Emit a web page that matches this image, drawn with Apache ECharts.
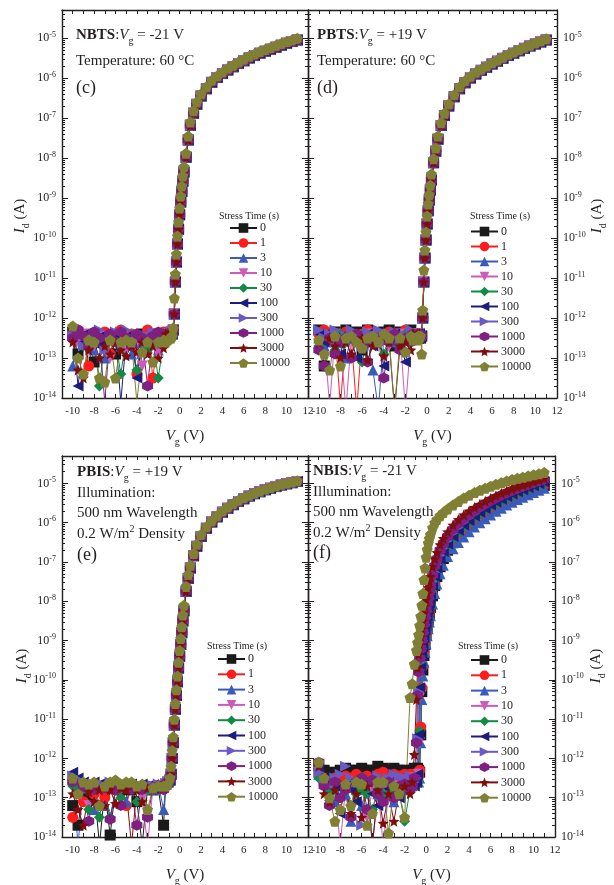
<!DOCTYPE html>
<html>
<head>
<meta charset="utf-8">
<script src="https://cdn.jsdelivr.net/npm/echarts@6/dist/echarts.min.js"></script>
<style>
html,body{margin:0;padding:0;background:#fff;}
#main{width:614px;height:885px;}
</style>
</head>
<body>
<div id="main"></div>
<script>
//stress times (legend)
var stressTimes = ['0', '1', '3', '10', '30', '100', '300', '1000', '3000', '10000'];
//gate voltage grids (V)
var vgOff = [-10, -9.5, -9, -8.5, -8, -7.5, -7, -6.5, -6, -5.5, -5, -4.5, -4, -3.5, -3, -2.5, -2, -1.5];
var vgOn = [-1.3, -1.1, -0.9, -0.8, -0.7, -0.6, -0.5, -0.4, -0.3, -0.2, -0.1, 0, 0.1, 0.2, 0.3, 0.4, 0.6, 0.8, 1.0, 1.3, 1.6,
	2, 2.5, 3, 3.5, 4, 4.5, 5, 5.5, 6, 6.5, 7, 7.5, 8, 8.5, 9, 9.5, 10, 10.5, 11];
//y ticks (A)
var decades = [1e-14, 1e-13, 1e-12, 1e-11, 1e-10, 1e-9, 1e-8, 1e-7, 1e-6, 1e-5];
//x tick labels (V)
var vgLabels = [-10, -8, -6, -4, -2, 0, 2, 4, 6, 8, 10, 12];

//---- log10(Id) readings ----
//(c) NBTS, off branch per stress time
var offC = [
	[-12.35, -12.9, -12.5, -12.45, -13.1, -12.4, -12.5, -12.45, -12.9, -12.4, -12.5, -12.45, -12.6, -12.4, -12.5, -12.45, -12.4, -12.5],
	[-12.4, -12.3, -12.6, -13.2, -12.4, -12.5, -12.35, -12.9, -12.4, -12.3, -12.6, -12.4, -13.4, -12.5, -12.3, -13.5, -12.4, -12.35],
	[-13.2, -12.4, -12.6, -12.45, -12.8, -12.4, -13.0, -12.5, -12.35, -12.7, -12.45, -12.9, -12.4, -12.6, -12.45, -12.4, -12.8, -12.5],
	[-12.5, -12.6, -12.4, -12.55, -12.7, -12.45, -12.6, -13.0, -12.5, -12.4, -12.8, -12.5, -12.6, -13.2, -12.5, -12.45, -12.9, -12.55],
	[-12.5, -12.4, -12.7, -12.6, -12.5, -13.7, -12.6, -12.4, -12.55, -13.4, -12.5, -12.6, -13.3, -12.45, -12.8, -12.55, -13.5, -12.6],
	[-12.3, -13.7, -12.6, -12.35, -12.5, -12.7, -12.4, -12.6, -12.45, -14.1, -12.5, -12.4, -13.5, -12.6, -12.45, -12.5, -12.4, -12.6],
	[-12.45, -12.35, -12.7, -12.5, -12.4, -12.3, -12.8, -12.45, -12.35, -12.6, -12.3, -12.5, -12.4, -12.9, -12.45, -12.35, -12.6, -12.4],
	[-12.5, -12.3, -12.45, -12.7, -12.35, -12.5, -14.1, -12.4, -12.6, -12.35, -12.5, -12.7, -12.4, -12.5, -13.7, -12.45, -12.35, -12.5],
	[-12.6, -13.3, -13.5, -12.8, -12.6, -13.0, -12.7, -12.9, -12.6, -12.8, -12.95, -12.7, -12.85, -12.6, -12.9, -12.7, -13.0, -12.75],
	[-12.2, -13.0, -13.4, -12.55, -12.6, -13.5, -13.6, -12.55, -13.5, -12.6, -12.55, -12.6, -14.1, -12.85, -12.6, -13.1, -12.6, -12.55]
];
var onC = [-12.4, -12.45, -12.4, -12.35, -12.4, -12.3, -11.9, -11.1, -10.6, -10.15, -9.78, -9.42, -9.1, -8.84, -8.58, -8.35, -7.98, -7.55, -7.18, -6.88,
	-6.66, -6.45, -6.27, -6.11, -5.99, -5.89, -5.8, -5.72, -5.64, -5.57, -5.5, -5.44, -5.38, -5.33, -5.28, -5.23, -5.18, -5.13, -5.09, -5.05];
var onC10 = [-12.6, -12.55, -12.5, -12.5, -12.45, -12.25, -11.5, -10.9, -10.4, -9.95, -9.6, -9.25, -8.95, -8.7, -8.45, -8.22, -7.88, -7.45, -7.1, -6.82,
	-6.6, -6.4, -6.22, -6.06, -5.95, -5.85, -5.76, -5.68, -5.6, -5.53, -5.46, -5.4, -5.34, -5.29, -5.24, -5.19, -5.14, -5.09, -5.05, -5.01];

//(d) PBTS
var offD = [
	[-12.3, -13.2, -12.4, -12.35, -12.6, -12.3, -12.45, -12.35, -12.8, -12.3, -12.4, -12.5, -12.35, -12.3, -12.7, -12.35, -12.4, -12.3],
	[-12.4, -12.3, -12.55, -12.4, -14.2, -12.35, -12.5, -14.3, -12.4, -12.3, -12.45, -12.6, -12.4, -12.35, -12.5, -12.4, -12.3, -12.45],
	[-12.5, -12.7, -12.4, -12.6, -12.45, -13.0, -12.5, -12.4, -12.7, -12.6, -13.3, -14.3, -12.5, -12.45, -12.6, -12.7, -12.5, -12.45],
	[-12.45, -12.5, -14.2, -12.4, -12.6, -14.3, -12.5, -12.45, -12.55, -12.4, -12.6, -12.5, -12.45, -12.7, -12.5, -12.4, -14.3, -12.5],
	[-12.7, -12.4, -12.5, -12.8, -12.4, -12.6, -12.5, -12.45, -13.1, -12.5, -12.4, -12.6, -12.9, -12.45, -12.5, -12.7, -12.4, -12.5],
	[-12.4, -12.6, -12.35, -12.5, -12.9, -12.4, -12.55, -13.0, -12.45, -12.4, -12.7, -12.35, -13.2, -12.5, -12.4, -12.6, -13.1, -12.45],
	[-12.3, -12.5, -12.4, -12.3, -12.6, -12.45, -12.3, -12.5, -12.7, -12.35, -12.5, -12.3, -12.6, -12.4, -12.35, -12.5, -12.45, -12.3],
	[-12.8, -13.2, -12.5, -12.9, -12.6, -12.5, -13.0, -12.4, -12.7, -13.1, -12.6, -12.5, -13.5, -12.6, -12.4, -12.8, -12.5, -12.6],
	[-12.6, -12.9, -12.5, -12.7, -13.0, -12.6, -12.9, -12.6, -12.5, -13.05, -12.7, -12.6, -12.95, -12.6, -14.3, -12.7, -12.6, -12.8],
	[-12.55, -12.9, -13.3, -12.45, -13.2, -12.5, -12.45, -12.6, -12.75, -12.5, -12.45, -12.6, -12.4, -12.5, -14.3, -12.5, -12.85, -12.45]
];
var onD = [-12.4, -12.45, -12.4, -12.5, -12.4, -12.5, -12.45, -12.0, -11.1, -10.5, -10.05, -9.65, -9.32, -9.05, -8.8, -8.55, -8.12, -7.83, -7.53, -7.19,
	-6.94, -6.7, -6.47, -6.27, -6.12, -6.0, -5.9, -5.81, -5.73, -5.65, -5.58, -5.51, -5.44, -5.38, -5.32, -5.26, -5.2, -5.15, -5.1, -5.05];
var onD10 = [-12.55, -12.5, -12.55, -12.45, -12.5, -12.45, -12.9, -11.8, -10.8, -10.3, -9.85, -9.45, -9.15, -8.92, -8.68, -8.4, -8.02, -7.75, -7.45, -7.12,
	-6.88, -6.65, -6.42, -6.22, -6.07, -5.96, -5.86, -5.78, -5.7, -5.62, -5.55, -5.48, -5.41, -5.35, -5.29, -5.23, -5.18, -5.12, -5.07, -5.02];

//(e) PBIS
var offE = [
	[-13.2, -13.7, -12.8, -13.0, -12.7, -14.2, -12.8, -13.95, -12.75, -12.8, -12.7, -12.8, -13.1, -14.2, -12.75, -12.8, -12.75, -13.7],
	[-13.5, -12.8, -13.1, -12.75, -12.9, -12.8, -13.0, -12.7, -12.8, -12.75, -13.2, -12.7, -12.75, -12.8, -12.7, -12.75, -12.7, -12.65],
	[-12.5, -14.2, -12.7, -12.75, -13.3, -12.7, -13.2, -12.7, -12.75, -12.7, -13.1, -12.7, -12.75, -12.7, -12.7, -12.8, -12.65, -13.3],
	[-12.6, -12.7, -12.75, -13.2, -12.7, -12.8, -12.7, -12.75, -12.8, -12.7, -12.75, -12.7, -12.8, -13.0, -14.2, -12.75, -12.7, -12.7],
	[-12.7, -12.8, -12.75, -13.3, -12.8, -13.5, -12.75, -13.5, -12.8, -13.0, -12.75, -12.8, -13.1, -12.7, -12.8, -12.75, -12.7, -12.75],
	[-12.35, -12.5, -12.6, -12.65, -12.6, -12.65, -12.7, -12.65, -12.7, -12.65, -12.7, -12.65, -12.7, -12.65, -12.7, -12.68, -12.7, -12.7],
	[-12.45, -12.55, -12.6, -12.65, -12.7, -12.65, -12.7, -12.6, -12.75, -12.65, -12.7, -12.7, -12.65, -12.7, -12.75, -12.7, -12.65, -12.7],
	[-12.6, -12.9, -12.7, -13.6, -12.8, -13.2, -12.75, -13.55, -12.8, -13.2, -12.75, -12.8, -13.7, -12.8, -13.5, -12.75, -12.7, -12.8],
	[-12.9, -13.3, -13.7, -12.85, -13.1, -12.8, -13.2, -12.8, -13.15, -12.75, -12.8, -14.2, -12.8, -13.1, -12.75, -12.8, -12.7, -12.75],
	[-12.5, -12.9, -12.6, -12.65, -12.6, -13.2, -12.7, -12.6, -12.55, -12.65, -12.6, -12.6, -12.7, -12.65, -13.3, -12.75, -12.7, -12.7]
];
var onE = [-12.65, -12.6, -12.55, -12.4, -12.0, -11.6, -11.15, -10.75, -10.4, -10.05, -9.7, -9.4, -9.1, -8.8, -8.5, -8.24, -7.75, -7.42, -7.15, -6.84,
	-6.6, -6.35, -6.14, -5.98, -5.85, -5.73, -5.63, -5.54, -5.46, -5.39, -5.32, -5.26, -5.21, -5.16, -5.12, -5.08, -5.04, -5.01, -4.98, -4.95];
var onE10 = [-12.7, -12.65, -12.5, -12.2, -11.8, -11.45, -11.0, -10.6, -10.25, -9.9, -9.55, -9.25, -8.95, -8.65, -8.35, -8.1, -7.62, -7.32, -7.08, -6.78,
	-6.55, -6.3, -6.1, -5.95, -5.82, -5.7, -5.6, -5.51, -5.43, -5.36, -5.3, -5.24, -5.19, -5.14, -5.1, -5.06, -5.02, -4.99, -4.96, -4.93];

//(f) NBIS
var offF = [
	[-12.15, -12.3, -12.35, -12.4, -12.3, -12.25, -12.3, -12.3, -12.25, -12.3, -12.3, -12.2, -12.25, -12.3, -12.25, -12.3, -12.3, -12.35],
	[-12.3, -12.5, -12.6, -12.5, -12.55, -12.45, -12.5, -12.4, -12.5, -12.45, -12.55, -12.4, -12.35, -12.5, -12.4, -12.45, -12.4, -12.4],
	[-12.4, -12.6, -12.8, -13.1, -12.7, -12.9, -13.6, -12.8, -13.2, -12.7, -14.2, -12.9, -12.75, -12.6, -13.1, -12.7, -12.8, -12.65],
	[-12.35, -12.7, -13.0, -12.8, -14.2, -12.75, -13.3, -12.9, -12.7, -13.5, -12.8, -12.7, -14.2, -12.9, -12.7, -12.8, -12.6, -12.7],
	[-12.5, -12.7, -12.9, -12.8, -13.0, -12.8, -13.2, -12.9, -12.8, -12.9, -13.3, -12.8, -13.0, -12.85, -12.8, -12.9, -13.6, -12.8],
	[-12.3, -12.5, -12.6, -12.7, -13.4, -12.6, -12.8, -13.1, -12.7, -12.6, -12.9, -13.2, -12.7, -12.6, -12.8, -13.0, -12.7, -12.6],
	[-12.35, -12.55, -12.7, -12.5, -12.4, -12.2, -12.5, -12.6, -13.7, -12.5, -12.6, -12.45, -12.7, -12.5, -12.4, -12.45, -12.5, -12.45],
	[-12.1, -12.7, -13.2, -12.6, -13.0, -12.8, -13.5, -12.6, -12.5, -13.3, -12.55, -12.9, -13.1, -12.6, -13.0, -12.7, -12.65, -12.8],
	[-12.2, -12.9, -13.1, -12.8, -13.3, -12.7, -13.4, -12.9, -13.5, -12.7, -14.2, -12.8, -13.65, -12.9, -13.6, -12.8, -12.7, -12.9],
	[-12.1, -12.5, -13.0, -13.6, -13.3, -12.65, -13.2, -12.6, -12.65, -13.7, -13.4, -12.6, -12.6, -13.9, -12.7, -12.9, -13.5, -10.45]
];
var onF = [
	[-12.3, -12.25, -12.3, -12.25, -12.3, -12.35, -11.4, -10.3, -9.75, -9.38, -9.1, -8.87, -8.67, -8.49, -8.32, -8.16, -7.86, -7.6, -7.37, -7.12,
		-6.91, -6.7, -6.51, -6.35, -6.21, -6.08, -5.97, -5.86, -5.76, -5.67, -5.59, -5.51, -5.44, -5.37, -5.31, -5.25, -5.2, -5.14, -5.09, -5.05],
	[-12.4, -12.5, -12.4, -12.5, -12.45, -12.3, -11.2, -10.2, -9.65, -9.3, -9.05, -8.83, -8.63, -8.45, -8.28, -8.12, -7.82, -7.56, -7.33, -7.08,
		-6.87, -6.67, -6.48, -6.32, -6.18, -6.05, -5.94, -5.84, -5.74, -5.65, -5.57, -5.49, -5.42, -5.35, -5.29, -5.23, -5.18, -5.13, -5.08, -5.03],
	[-12.6, -12.5, -12.6, -12.5, -12.6, -12.5, -11.6, -10.5, -9.9, -9.55, -9.3, -9.08, -8.88, -8.7, -8.53, -8.37, -8.07, -7.8, -7.56, -7.3,
		-7.08, -6.86, -6.66, -6.5, -6.36, -6.23, -6.11, -6.0, -5.9, -5.8, -5.71, -5.63, -5.55, -5.48, -5.41, -5.35, -5.29, -5.23, -5.17, -5.12],
	[-12.5, -12.6, -12.5, -12.6, -12.4, -11.6, -10.4, -9.8, -9.45, -9.18, -8.95, -8.75, -8.56, -8.38, -8.21, -8.05, -7.75, -7.5, -7.28, -7.03,
		-6.83, -6.63, -6.44, -6.28, -6.14, -6.02, -5.91, -5.81, -5.71, -5.62, -5.54, -5.46, -5.39, -5.32, -5.26, -5.21, -5.15, -5.1, -5.05, -5.01],
	[-12.6, -12.5, -12.7, -12.5, -12.6, -11.3, -10.2, -9.7, -9.38, -9.12, -8.9, -8.7, -8.52, -8.35, -8.18, -8.02, -7.72, -7.47, -7.25, -7.01,
		-6.81, -6.61, -6.42, -6.26, -6.12, -6.0, -5.89, -5.79, -5.69, -5.6, -5.52, -5.45, -5.38, -5.31, -5.25, -5.2, -5.14, -5.09, -5.04, -5.0],
	[-12.5, -12.7, -12.6, -12.4, -11.4, -10.2, -9.7, -9.4, -9.15, -8.93, -8.73, -8.55, -8.37, -8.2, -8.04, -7.89, -7.6, -7.36, -7.15, -6.92,
		-6.73, -6.54, -6.35, -6.19, -6.06, -5.94, -5.83, -5.73, -5.64, -5.55, -5.47, -5.4, -5.33, -5.27, -5.21, -5.16, -5.11, -5.06, -5.01, -4.97],
	[-12.8, -12.6, -12.5, -11.5, -10.3, -9.75, -9.45, -9.2, -9.0, -8.8, -8.6, -8.42, -8.25, -8.08, -7.92, -7.77, -7.5, -7.26, -7.06, -6.83,
		-6.65, -6.46, -6.27, -6.12, -5.99, -5.87, -5.77, -5.67, -5.58, -5.5, -5.42, -5.35, -5.29, -5.23, -5.17, -5.12, -5.07, -5.02, -4.98, -4.94],
	[-12.7, -12.5, -11.6, -10.4, -9.8, -9.45, -9.2, -8.98, -8.78, -8.58, -8.4, -8.22, -8.05, -7.9, -7.75, -7.6, -7.33, -7.1, -6.92, -6.7,
		-6.53, -6.35, -6.17, -6.02, -5.9, -5.79, -5.69, -5.6, -5.52, -5.44, -5.37, -5.3, -5.24, -5.18, -5.13, -5.08, -5.03, -4.98, -4.94, -4.9],
	[-12.6, -11.9, -10.5, -9.7, -9.35, -9.1, -8.9, -8.7, -8.5, -8.3, -8.12, -7.95, -7.8, -7.65, -7.5, -7.37, -7.12, -6.92, -6.76, -6.56,
		-6.4, -6.23, -6.06, -5.92, -5.8, -5.7, -5.61, -5.53, -5.45, -5.38, -5.31, -5.25, -5.19, -5.14, -5.09, -5.04, -5.0, -4.95, -4.91, -4.87],
	[-10.1, -9.6, -9.25, -9.05, -8.85, -8.62, -8.38, -8.1, -7.8, -7.45, -7.15, -6.88, -6.68, -6.52, -6.4, -6.3, -6.13, -6.0, -5.92, -5.82,
		-5.74, -5.65, -5.55, -5.46, -5.37, -5.3, -5.23, -5.17, -5.12, -5.07, -5.02, -4.98, -4.94, -4.9, -4.87, -4.84, -4.81, -4.78, -4.75, -4.72]
];

//---- styles ----
var FONT = 'Liberation Serif';
var INK = '#231f20';
var colors = ['#1a1a1a', '#ff1c1c', '#3a5cb8', '#cc5cb8', '#118a46', '#1c1c7c', '#6a5ac4', '#7e2080', '#800d0d', '#808034'];
var hexagon = 'path://M0,-10L8.66,-5L8.66,5L0,10L-8.66,5L-8.66,-5Z';
var star = 'path://M0,-10L2.65,-3.64L9.51,-3.09L4.28,1.39L5.88,8.09L0,4.5L-5.88,8.09L-4.28,1.39L-9.51,-3.09L-2.65,-3.64Z';
var pentagon = 'path://M0,-10L9.51,-3.09L5.88,8.09L-5.88,8.09L-9.51,-3.09Z';
var symbols = ['rect', 'circle', 'triangle', 'triangle', 'diamond', 'triangle', 'triangle', hexagon, star, pentagon];
var rotates = [0, 0, 0, 180, 0, 90, -90, 0, 0, 0];

var panels = [
	{off: offC, on: [onC, onC, onC, onC, onC, onC, onC, onC, onC, onC10], grid: {left: 62, top: 10, width: 246, height: 388}, right: false,
		legend: {left: 229, top: 222, gap: 3, title: [249, 216]}},
	{off: offD, on: [onD, onD, onD, onD, onD, onD, onD, onD, onD, onD10], grid: {left: 308, top: 10, width: 249, height: 388}, right: true,
		legend: {left: 470, top: 225.5, gap: 3, title: [500, 216]}},
	{off: offE, on: [onE, onE, onE, onE, onE, onE, onE, onE, onE, onE10], grid: {left: 62, top: 456, width: 246, height: 381}, right: false,
		legend: {left: 217, top: 653, gap: 3.3, title: [237, 646]}},
	{off: offF, on: onF, grid: {left: 308, top: 456, width: 247, height: 381}, right: true,
		legend: {left: 470, top: 654, gap: 3.3, title: [488, 646]}}
];

var minorTicks = [];
decades.forEach(function (d) {
	[2, 3, 4, 5, 6, 7, 8, 9].forEach(function (m) { if (d * m < 5e-5) minorTicks.push(d * m); });
});

function supLabel(v) {
	return '10{e|' + Math.round(Math.log10(v)) + '}';
}

var grids = [], xAxes = [], yAxes = [], series = [], legends = [], graphics = [];
var frame = {show: true, onZero: false, lineStyle: {color: INK, width: 1.4}};

panels.forEach(function (p, g) {
	var gr = p.grid;
	grids.push({left: gr.left, top: gr.top, width: gr.width, height: gr.height, containLabel: false, outerBoundsMode: 'none'});
	['bottom', 'top'].forEach(function (pos) {
		xAxes.push({
			gridIndex: g, type: 'value', position: pos, min: -11, max: 12, interval: 1,
			axisLine: frame,
			axisTick: {inside: true, length: 4, lineStyle: {color: INK}},
			axisLabel: {
				show: pos === 'bottom', margin: 8, fontSize: 11, color: INK, fontFamily: FONT,
				formatter: function (v) { return vgLabels.indexOf(v) >= 0 ? String(v) : ''; }
			},
			splitLine: {show: false},
			name: pos === 'bottom' ? '{i|V}{s|g} (V)' : '',
			nameLocation: 'middle', nameGap: 27,
			nameTextStyle: {
				fontSize: 15, color: INK, fontFamily: FONT,
				rich: {i: {fontStyle: 'italic', fontSize: 15, fontFamily: FONT, color: INK},
					s: {fontSize: 10, fontFamily: FONT, color: INK, padding: [12, 0, 0, 0]}}
			}
		});
	});
	['left', 'right', 'left', 'right'].forEach(function (pos, k) {
		var major = k < 2;
		yAxes.push({
			gridIndex: g, type: 'log', logBase: 10, position: pos, min: 1e-14, max: 5e-5,
			axisLine: major ? frame : {show: false, onZero: false},
			axisTick: {inside: true, length: major ? 6 : 3, customValues: major ? decades : minorTicks, lineStyle: {color: INK}},
			axisLabel: {
				show: major && ((pos === 'right') === p.right), customValues: decades,
				margin: 6, fontSize: 12, color: INK, fontFamily: FONT, formatter: supLabel,
				rich: {e: {fontSize: 8, fontFamily: FONT, color: INK, padding: [0, 0, 7, 0]}}
			},
			splitLine: {show: false}
		});
	});
	stressTimes.forEach(function (name, s) {
		var pts = [];
		vgOff.forEach(function (v, i) { pts.push([v, Math.pow(10, p.off[s][i])]); });
		vgOn.forEach(function (v, i) { pts.push([v, Math.pow(10, p.on[s][i])]); });
		series.push({
			type: 'line', name: name, xAxisIndex: 2 * g, yAxisIndex: 4 * g, data: pts,
			symbol: symbols[s], symbolRotate: rotates[s], symbolSize: 11,
			itemStyle: {color: colors[s]}, lineStyle: {color: colors[s], width: 1},
			clip: true, animation: false
		});
	});
	var lg = p.legend;
	legends.push({
		data: stressTimes, orient: 'vertical', left: lg.left, top: lg.top, padding: 0,
		itemWidth: 27, itemHeight: 12, itemGap: lg.gap, selectedMode: false,
		textStyle: {fontSize: 12, color: INK, fontFamily: FONT, padding: [0, 0, 0, -2]}
	});
	graphics.push({type: 'text', x: lg.title[0], y: lg.title[1],
		style: {text: 'Stress Time (s)', font: '10px "' + FONT + '"', fill: INK, align: 'center', verticalAlign: 'middle'}});
});

//panel annotations
var richText = {
	b: {fontWeight: 'bold', fontSize: 15, fontFamily: FONT, color: INK},
	i: {fontStyle: 'italic', fontSize: 15, fontFamily: FONT, color: INK},
	s: {fontSize: 10, fontFamily: FONT, color: INK, padding: [12, 0, 0, 0]},
	u: {fontSize: 10, fontFamily: FONT, color: INK, padding: [0, 0, 9, 0]}
};
function note(x, y, text, size) {
	graphics.push({type: 'text', x: x, y: y, style: {text: text, rich: richText,
		font: (size || 15) + 'px "' + FONT + '"', fill: INK, align: 'left', verticalAlign: 'middle'}});
}
note(76, 35, '{b|NBTS}:{i|V}{s|g} = -21 V');
note(76, 61, 'Temperature: 60 °C');
note(76, 88, '(c)', 18);
note(317, 35, '{b|PBTS}:{i|V}{s|g} = +19 V');
note(317, 61, 'Temperature: 60 °C');
note(317, 88, '(d)', 18);
note(77, 472, '{b|PBIS}:{i|V}{s|g} = +19 V');
note(77, 493, 'Illumination:');
note(77, 513, '500 nm Wavelength');
note(77, 534, '0.2 W/m{u|2} Density');
note(77, 555, '(e)', 18);
note(313, 471, '{b|NBIS}:{i|V}{s|g} = -21 V');
note(313, 492, 'Illumination:');
note(313, 512, '500 nm Wavelength');
note(313, 533, '0.2 W/m{u|2} Density');
note(313, 553, '(f)', 18);

//y axis names
[[20, 216], [597, 216], [22, 666], [596, 666]].forEach(function (c) {
	graphics.push({type: 'text', x: c[0], y: c[1], rotation: Math.PI / 2,
		style: {text: '{i|I}{s|d} (A)', rich: richText, font: '15px "' + FONT + '"', fill: INK, align: 'center', verticalAlign: 'middle'}});
});

var myChart = echarts.init(document.getElementById('main'), null, {renderer: 'canvas'});
myChart.setOption({
	animation: false,
	backgroundColor: '#fff',
	textStyle: {fontFamily: FONT},
	grid: grids,
	xAxis: xAxes,
	yAxis: yAxes,
	legend: legends,
	graphic: {elements: graphics},
	series: series
});
</script>
</body>
</html>
